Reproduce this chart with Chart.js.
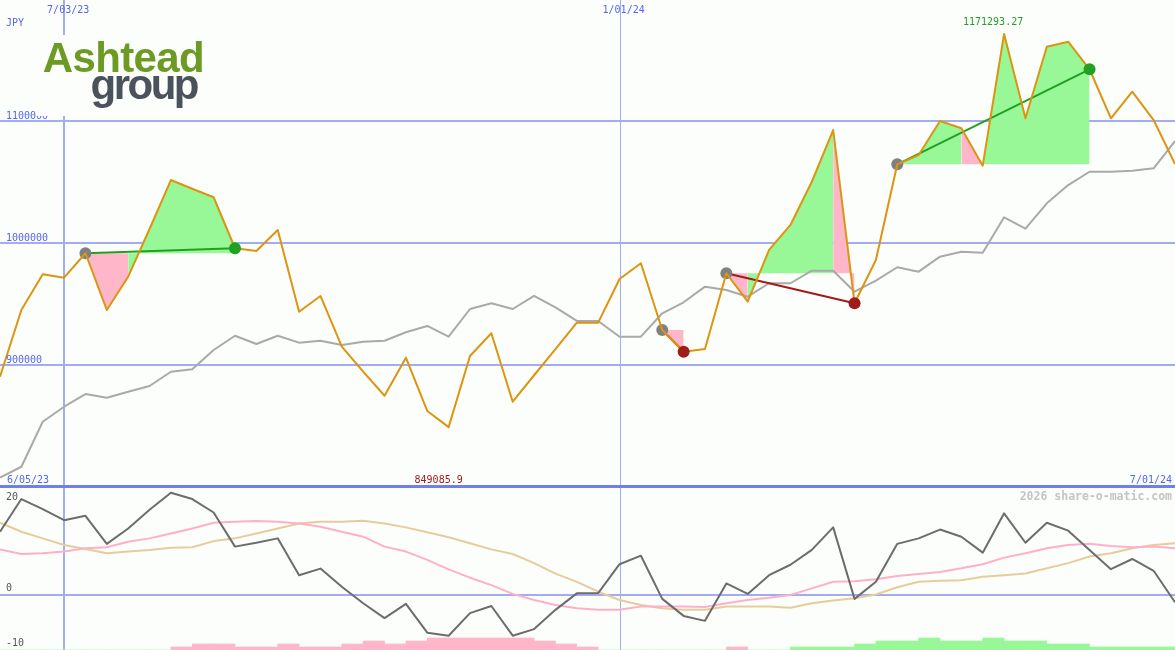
<!DOCTYPE html>
<html>
<head>
<meta charset="utf-8">
<title>Ashtead group - JPY</title>
<script src="https://cdn.jsdelivr.net/npm/chart.js@4.4.1/dist/chart.umd.min.js"></script>
<style>
  html, body { margin: 0; padding: 0; background: #fcfefc; }
  #wrap { position: relative; width: 1175px; height: 650px; overflow: hidden; background: #fcfefc; }
  .panel { position: absolute; left: 0; width: 1175px; }
  #pricePanel { top: -1px; height: 488px; }
  #macdPanel { top: 487px; height: 163px; }
  #logo { position: absolute; left: 36px; top: 35px; width: 174px; height: 81px; background: #fcfefc;
          font-family: "Liberation Sans", Arial, sans-serif; font-weight: bold; font-size: 42px; line-height: 42px; }
  #logo span { position: absolute; white-space: nowrap; }
  #logo .a { top: 2px; right: 6px; color: #6b9b23; letter-spacing: -0.65px; }
  #logo .g { top: 29px; right: 13px; color: #4a525b; letter-spacing: -2.5px; }
</style>
</head>
<body>
<div id="wrap">
  <div class="panel" id="pricePanel"><canvas id="priceChart"></canvas></div>
  <div class="panel" id="macdPanel"><canvas id="macdChart"></canvas></div>
  <div id="logo"><span class="a">Ashtead</span><span class="g">group</span></div>
</div>
<script>
// weekly closes, JPY
const priceJPY = [890400, 945100, 974300, 971600, 991600, 945100, 972400, 1011500, 1051600, 1044500,
  1037500, 995700, 993400, 1010700, 943700, 956600, 915000, 894500, 874800, 906000,
  862300, 849085.9, 907400, 926000, 869900, 891600, 913100, 934700, 934700, 970500,
  983400, 928700, 910900, 913100, 975200, 951900, 994300, 1014800, 1050200, 1092600,
  950600, 986100, 1064500, 1072100, 1100000, 1094000, 1063400, 1171293.27, 1102200, 1160900,
  1165000, 1142400, 1102200, 1124000, 1100800, 1064800];
// moving average (grey)
const avgJPY = [807600, 816600, 853500, 865800, 876200, 873200, 878100, 882800, 894500, 896500,
  912300, 924000, 917200, 924000, 918300, 919900, 916400, 919100, 919900, 926800,
  932000, 923200, 945900, 950600, 945900, 956600, 947300, 936100, 936100, 923200,
  923200, 942400, 951400, 964200, 961500, 956000, 967000, 967000, 977300, 977300,
  960100, 969100, 980100, 976500, 988800, 992900, 992000, 1021100, 1011700, 1032500,
  1047500, 1058400, 1058400, 1059300, 1061200, 1083600];

// lower panel
const macdLine = [11.5, 17.45, 15.6, 13.6, 14.4, 9.3, 12.1, 15.5, 18.6, 17.45,
  15.0, 8.8, 9.5, 10.3, 3.6, 4.8, 1.5, -1.5, -4.2, -1.6,
  -6.85, -7.4, -3.3, -2.0, -7.4, -6.2, -2.7, 0.3, 0.35, 5.6,
  7.15, -0.7, -3.8, -4.7, 2.1, 0.2, 3.6, 5.5, 8.2, 12.3,
  -0.7, 2.4, 9.3, 10.3, 11.9, 10.6, 7.7, 14.85, 9.5, 13.15,
  11.7, 8.2, 4.7, 6.55, 4.4, -1.3];
const macdPink = [8.3, 7.45, 7.6, 7.9, 8.5, 8.7, 9.7, 10.3, 11.2, 12.1,
  13.15, 13.3, 13.45, 13.3, 13.0, 12.4, 11.5, 10.6, 8.8, 7.9,
  6.4, 4.67, 3.15, 1.8, 0.2, -0.9, -1.8, -2.4, -2.7, -2.7,
  -2.1, -2.1, -2.1, -2.2, -1.5, -0.9, -0.5, 0.0, 1.2, 2.4,
  2.5, 2.85, 3.45, 3.8, 4.2, 4.85, 5.6, 6.8, 7.6, 8.5,
  9.1, 9.3, 8.9, 8.7, 8.8, 8.5];
const macdTan = [13.15, 11.5, 10.3, 9.1, 8.36, 7.6, 7.9, 8.2, 8.6, 8.67,
  9.8, 10.3, 11.2, 12.1, 13.0, 13.3, 13.3, 13.5, 13.0, 12.3,
  11.4, 10.5, 9.4, 8.3, 7.45, 5.8, 3.9, 2.4, 0.6, -0.9,
  -1.8, -2.4, -2.7, -2.7, -2.1, -2.1, -2.1, -2.3, -1.5, -1.0,
  -0.6, 0.1, 1.4, 2.4, 2.6, 2.7, 3.3, 3.6, 3.9, 4.85,
  5.8, 7.0, 7.6, 8.5, 9.1, 9.4];
// one bar per week interval, sign = colour
const histLevels = [0, 0, 0, 0, 0, 0, 0, 0, -1, -2,
  -2, -1, -1, -2, -1, -1, -2, -3, -2, -3,
  -4, -4, -4, -4, -4, -3, -2, -1, 0, 0,
  0, 0, 0, 0, -1, 0, 0, 1, 1, 1,
  2, 3, 3, 4, 3, 3, 4, 3, 3, 2,
  2, 1, 1, 1, 1];

const priceGrid = [900000, 1000000, 1100000];
const macdTicks = [20, 0, -10];
const markIndex = [3, 29];
const markLabels = ['7/03/23', '1/01/24'];
const rangeLabels = ['6/05/23', '7/01/24'];
const tradeStart = [4, 31, 34, 42];
const tradeEnd = [11, 32, 40, 51];

const colors = {
  price: '#dd9410', avg: '#a9a9a9', grid: '#a3acf3', divider: '#6f7ff0', axisText: '#5566ee',
  gain: '#98f898', loss: '#ffb6c8', win: '#22a022', lose: '#a01c1c', start: '#808080',
  macd: '#6c6c6c', pink: '#ffb0c8', tan: '#e6cc9a'
};
const MONO = '10px "DejaVu Sans Mono", monospace';
const lastIndex = priceJPY.length - 1;
const pts = arr => arr.map((v, i) => ({ x: i, y: v }));

const hiIdx = priceJPY.indexOf(Math.max(...priceJPY));
const loIdx = priceJPY.indexOf(Math.min(...priceJPY));

function drawMarks(ctx, a, x) {
    markIndex.forEach((m, k) => {
        const px = Math.round(x.getPixelForValue(m));
        ctx.lineWidth = k === 0 ? 2 : 1;
        const off = k === 0 ? 0 : 0.5;
        ctx.beginPath(); ctx.moveTo(px + off, a.top); ctx.lineTo(px + off, a.bottom); ctx.stroke();
    });
}

const priceDecor = {
    id: 'priceDecor',
    beforeDatasetsDraw(chart) {
        const { ctx, chartArea: a, scales: { x, y } } = chart;
        ctx.save();
        ctx.strokeStyle = colors.grid;
        ctx.lineWidth = 2;
        priceGrid.forEach(v => {
            const py = Math.round(y.getPixelForValue(v));
            ctx.beginPath(); ctx.moveTo(a.left, py); ctx.lineTo(a.right, py); ctx.stroke();
        });
        drawMarks(ctx, a, x);
        ctx.fillStyle = colors.divider;
        ctx.fillRect(a.left, a.bottom - 2, a.right - a.left, 2);
        ctx.restore();
    },
    afterDatasetsDraw(chart) {
        const { ctx, chartArea: a, scales: { x, y } } = chart;
        ctx.save();
        ctx.font = MONO;
        ctx.fillStyle = colors.axisText;
        ctx.textAlign = 'left';
        priceGrid.forEach(v => ctx.fillText(String(v), 6, Math.round(y.getPixelForValue(v)) - 2));
        ctx.fillText('JPY', 6, a.top + 27);
        markIndex.forEach((m, k) => ctx.fillText(markLabels[k], x.getPixelForValue(m) - 17, a.top + 14));
        ctx.fillText(rangeLabels[0], 7, a.bottom - 4);
        ctx.textAlign = 'right';
        ctx.fillText(rangeLabels[1], a.right - 3, a.bottom - 4);
        ctx.textAlign = 'center';
        ctx.fillStyle = colors.lose;
        ctx.fillText(String(priceJPY[loIdx]), x.getPixelForValue(loIdx) - 10, a.bottom - 4);
        ctx.fillStyle = colors.win;
        ctx.fillText(String(priceJPY[hiIdx]), x.getPixelForValue(hiIdx) - 11, a.top + 26);
        ctx.restore();
    }
};

const macdDecor = {
    id: 'macdDecor',
    beforeDatasetsDraw(chart) {
        const { ctx, chartArea: a, scales: { x, y } } = chart;
        ctx.save();
        ctx.strokeStyle = colors.grid;
        ctx.lineWidth = 2;
        const py = Math.round(y.getPixelForValue(0));
        ctx.beginPath(); ctx.moveTo(a.left, py); ctx.lineTo(a.right, py); ctx.stroke();
        drawMarks(ctx, a, x);
        ctx.fillStyle = colors.divider;
        ctx.fillRect(a.left, a.top, a.right - a.left, 1);
        ctx.restore();
    },
    afterDatasetsDraw(chart) {
        const { ctx, chartArea: a, scales: { y } } = chart;
        ctx.save();
        ctx.font = MONO;
        ctx.fillStyle = '#555555';
        macdTicks.forEach(v => {
            const base = Math.max(y.getPixelForValue(v) - 4, a.top + 13);
            ctx.fillText(String(v), 6, base);
        });
        ctx.font = 'bold 11.5px "DejaVu Sans Mono", monospace';
        ctx.fillStyle = '#c4c4c4';
        ctx.textAlign = 'right';
        ctx.fillText('2026 share-o-matic.com', a.right - 3, a.top + 13);
        ctx.restore();
    }
};

// trade fills, trend lines and dots
const priceSets = [];
tradeStart.forEach((s, k) => {
    const e = tradeEnd[k];
    const base = priceJPY[s];
    priceSets.push({
        data: pts(priceJPY).slice(s, e + 1),
        borderWidth: 0,
        backgroundColor: colors.gain,
        fill: { value: base },
        segment: { backgroundColor: c => c.p1.parsed.y >= base ? colors.gain : colors.loss },
        order: 10
    });
    priceSets.push({
        data: [{ x: s, y: base }, { x: e, y: priceJPY[e] }],
        borderColor: priceJPY[e] > base ? colors.win : colors.lose,
        borderWidth: 2,
        fill: false,
        order: 4
    });
});
priceSets.push({
    data: pts(avgJPY), borderColor: colors.avg, borderWidth: 2, fill: false, order: 6
});
priceSets.push({
    data: tradeStart.map(s => ({ x: s, y: priceJPY[s] })),
    showLine: false, pointRadius: 6, pointBorderWidth: 0,
    pointBackgroundColor: colors.start, order: 3
});
priceSets.push({
    data: pts(priceJPY), borderColor: colors.price, borderWidth: 2, fill: false, order: 2
});
priceSets.push({
    data: tradeEnd.map(e => ({ x: e, y: priceJPY[e] })),
    showLine: false, pointRadius: 6, pointBorderWidth: 0,
    pointBackgroundColor: tradeEnd.map((e, k) => priceJPY[e] > priceJPY[tradeStart[k]] ? colors.win : colors.lose),
    order: 1
});

const commonOptions = (yScales) => ({
    responsive: true,
    maintainAspectRatio: false,
    animation: false,
    events: [],
    layout: { padding: 0, autoPadding: false },
    plugins: { legend: { display: false }, tooltip: { enabled: false } },
    elements: { line: { tension: 0, borderJoinStyle: 'round' }, point: { radius: 0 } },
    scales: Object.assign({
        x: { type: 'linear', min: 0, max: lastIndex, offset: false, display: false }
    }, yScales)
});

new Chart(document.getElementById('priceChart'), {
    type: 'line',
    data: { datasets: priceSets },
    options: commonOptions({ y: { min: 800000, max: 1200000, display: false } }),
    plugins: [priceDecor]
});

new Chart(document.getElementById('macdChart'), {
    type: 'line',
    data: {
        datasets: [
            {
                type: 'bar',
                data: histLevels.map((v, i) => ({ x: i + 0.5, y: Math.abs(v) })),
                yAxisID: 'yh',
                backgroundColor: c => histLevels[c.dataIndex] < 0 ? colors.loss : colors.gain,
                borderWidth: 0,
                barPercentage: 1,
                categoryPercentage: 1,
                order: 10
            },
            { data: pts(macdTan), borderColor: colors.tan, borderWidth: 2, fill: false, order: 5 },
            { data: pts(macdPink), borderColor: colors.pink, borderWidth: 2, fill: false, order: 4 },
            { data: pts(macdLine), borderColor: colors.macd, borderWidth: 2, fill: false, order: 3 }
        ]
    },
    options: commonOptions({
        y: { min: -10, max: 19.64, display: false },
        yh: { min: 0, max: 54.3, display: false }
    }),
    plugins: [macdDecor]
});
</script>
</body>
</html>
